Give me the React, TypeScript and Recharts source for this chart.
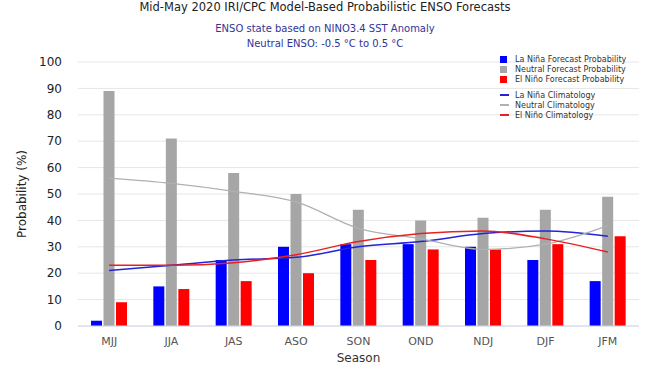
import React from 'react'
import { ComposedChart, Bar, Line, XAxis, YAxis, CartesianGrid, Legend } from 'recharts'

const seasons = ['MJJ', 'JJA', 'JAS', 'ASO', 'SON', 'OND', 'NDJ', 'DJF', 'JFM']
const laNinaProb = [2, 15, 25, 30, 31, 31, 30, 25, 17]
const neutralProb = [89, 71, 58, 50, 44, 40, 41, 44, 49]
const elNinoProb = [9, 14, 17, 20, 25, 29, 29, 31, 34]
const laNinaClim = [21, 23, 25, 26, 30, 32, 35, 36, 34]
const neutralClim = [56, 54, 51, 47, 37, 33, 29, 31, 38]
const elNinoClim = [23, 23, 24, 27, 32, 35, 36, 33, 28]
const yTicks = [0, 10, 20, 30, 40, 50, 60, 70, 80, 90, 100]

const data = seasons.map((s, i) => ({
  season: s,
  laNina: laNinaProb[i],
  neutral: neutralProb[i],
  elNino: elNinoProb[i],
  laNinaClim: laNinaClim[i],
  neutralClim: neutralClim[i],
  elNinoClim: elNinoClim[i],
}))

const FONT = '"DejaVu Sans", sans-serif'

const barItems = [
  { label: 'La Niña Forecast Probability', color: '#0000ff' },
  { label: 'Neutral Forecast Probability', color: '#a6a6a6' },
  { label: 'El Niño Forecast Probability', color: '#ff0000' },
]
const lineItems = [
  { label: 'La Niña Climatology', color: '#2323d8' },
  { label: 'Neutral Climatology', color: '#b0b0b0' },
  { label: 'El Niño Climatology', color: '#e82020' },
]

function ChartLegend() {
  const row = { display: 'flex', alignItems: 'center', height: 10, fontSize: 8, color: '#333', whiteSpace: 'nowrap' as const }
  return (
    <div style={{ fontFamily: FONT }}>
      {barItems.map(d => (
        <div key={d.label} style={row}>
          <span style={{ width: 7, height: 7, background: d.color, display: 'inline-block', marginRight: 8 }} />
          {d.label}
        </div>
      ))}
      <div style={{ height: 6 }} />
      {lineItems.map(d => (
        <div key={d.label} style={row}>
          <span style={{ width: 9, height: 1.5, background: d.color, display: 'inline-block', marginRight: 6 }} />
          {d.label}
        </div>
      ))}
    </div>
  )
}

export default function App() {
  return (
    <div style={{ position: 'absolute', left: 0, top: 0, width: 650, height: 366, background: '#fff', fontFamily: FONT }}>
      <div style={{ position: 'absolute', top: 0, left: 0, width: 650, textAlign: 'center' }}>
        <div style={{ fontSize: 11.5, color: '#222', lineHeight: '15px' }}>
          Mid-May 2020 IRI/CPC Model-Based Probabilistic ENSO Forecasts
        </div>
        <div style={{ fontSize: 10, color: '#333399', lineHeight: '15px', marginTop: 6 }}>
          ENSO state based on NINO3.4 SST Anomaly
        </div>
        <div style={{ fontSize: 10, color: '#333399', lineHeight: '15px' }}>
          Neutral ENSO: -0.5 °C to 0.5 °C
        </div>
      </div>
      <div style={{ position: 'absolute', top: 0, left: 0 }}>
        <ComposedChart
          width={650}
          height={366}
          data={data}
          margin={{ top: 62, right: 11, bottom: 0, left: 0 }}
          barSize={11}
          barGap={1.5}
        >
          <CartesianGrid vertical={false} stroke="#e6e6e6" />
          <XAxis
            dataKey="season"
            height={40}
            tickLine={false}
            axisLine={{ stroke: '#ccd6eb' }}
            tickMargin={5}
            tick={{ fontSize: 11, fill: '#555', fontFamily: FONT }}
            label={{ value: 'Season', position: 'insideBottom', offset: 4, style: { fontSize: 12, fill: '#333', fontFamily: FONT } }}
          />
          <YAxis
            width={78}
            domain={[0, 100]}
            ticks={yTicks}
            tickLine={false}
            axisLine={false}
            tickMargin={10}
            tick={{ fontSize: 12, fill: '#222', fontFamily: FONT }}
            label={{ value: 'Probability (%)', angle: -90, position: 'insideLeft', offset: 22, style: { textAnchor: 'middle', fontSize: 12, fill: '#222', fontFamily: FONT } }}
          />
          <Bar dataKey="laNina" fill="#0000ff" isAnimationActive={false} />
          <Bar dataKey="neutral" fill="#a6a6a6" isAnimationActive={false} />
          <Bar dataKey="elNino" fill="#ff0000" isAnimationActive={false} />
          <Line type="monotone" dataKey="laNinaClim" stroke="#2323d8" strokeWidth={1.5} dot={false} isAnimationActive={false} />
          <Line type="monotone" dataKey="neutralClim" stroke="#b0b0b0" strokeWidth={1.2} dot={false} isAnimationActive={false} />
          <Line type="monotone" dataKey="elNinoClim" stroke="#e82020" strokeWidth={1.5} dot={false} isAnimationActive={false} />
          <Legend
            layout="vertical"
            align="center"
            verticalAlign="middle"
            content={() => <ChartLegend />}
            wrapperStyle={{ top: 54, left: 500, width: 150 }}
          />
        </ComposedChart>
      </div>
    </div>
  )
}
